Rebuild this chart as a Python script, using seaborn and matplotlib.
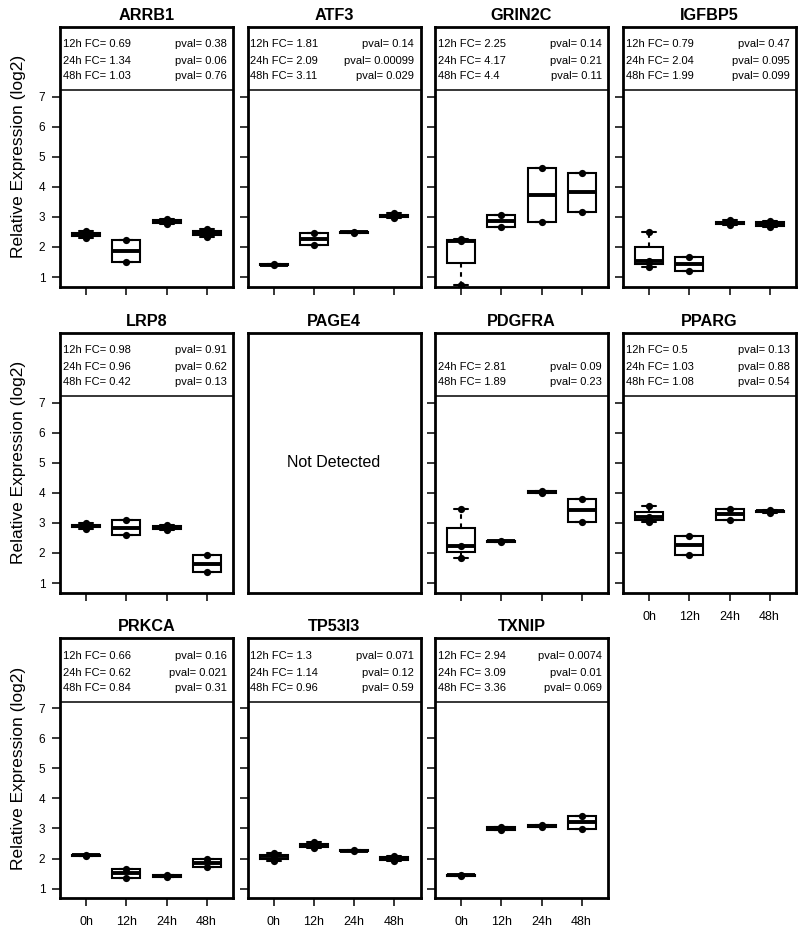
import numpy as np
import pandas as pd
import matplotlib
matplotlib.use("Agg")
import matplotlib.pyplot as plt
import seaborn as sns

# ---------------- data ----------------
timepoints = ["0h", "12h", "24h", "48h"]
genes = ["ARRB1", "ATF3", "GRIN2C", "IGFBP5", "LRP8", "PAGE4",
         "PDGFRA", "PPARG", "PRKCA", "TP53I3", "TXNIP"]

# replicate relative expression (log2) per time point (0h, 12h, 24h, 48h)
ARRB1 = [[2.29, 2.42, 2.52], [1.49, 2.24], [2.77, 2.84, 2.92], [2.32, 2.45, 2.60]]
ATF3 = [[1.39, 1.43], [2.06, 2.47], [2.47, 2.50], [2.95, 3.03, 3.12]]
GRIN2C = [[0.73, 2.19, 2.26], [2.66, 3.07], [2.84, 4.63], [3.17, 4.47]]
IGFBP5 = [[1.33, 1.52, 2.49], [1.21, 1.67], [2.72, 2.80, 2.88], [2.66, 2.76, 2.87]]
LRP8 = [[2.80, 2.90, 2.98], [2.60, 3.09], [2.75, 2.84, 2.93], [1.36, 1.92]]
PAGE4 = None  # not detected
PDGFRA = [[1.84, 2.22, 3.46], [2.37, 2.40], [3.98, 4.02, 4.07], [3.04, 3.80]]
PPARG = [[3.03, 3.18, 3.57], [1.94, 2.56], [3.10, 3.46], [3.32, 3.38, 3.43]]
PRKCA = [[2.08, 2.13], [1.35, 1.66], [1.39, 1.44], [1.71, 1.98]]
TP53I3 = [[1.92, 2.07, 2.20], [2.35, 2.45, 2.55], [2.24, 2.28], [1.93, 2.00, 2.08]]
TXNIP = [[1.42, 1.46], [2.95, 3.05], [3.04, 3.12], [2.99, 3.41]]

# fold changes and p-values for 12h, 24h, 48h vs 0h (None = not shown)
ARRB1_fc, ARRB1_pval = ["0.69", "1.34", "1.03"], ["0.38", "0.06", "0.76"]
ATF3_fc, ATF3_pval = ["1.81", "2.09", "3.11"], ["0.14", "0.00099", "0.029"]
GRIN2C_fc, GRIN2C_pval = ["2.25", "4.17", "4.4"], ["0.14", "0.21", "0.11"]
IGFBP5_fc, IGFBP5_pval = ["0.79", "2.04", "1.99"], ["0.47", "0.095", "0.099"]
LRP8_fc, LRP8_pval = ["0.98", "0.96", "0.42"], ["0.91", "0.62", "0.13"]
PDGFRA_fc, PDGFRA_pval = [None, "2.81", "1.89"], [None, "0.09", "0.23"]
PPARG_fc, PPARG_pval = ["0.5", "1.03", "1.08"], ["0.13", "0.88", "0.54"]
PRKCA_fc, PRKCA_pval = ["0.66", "0.62", "0.84"], ["0.16", "0.021", "0.31"]
TP53I3_fc, TP53I3_pval = ["1.3", "1.14", "0.96"], ["0.071", "0.12", "0.59"]
TXNIP_fc, TXNIP_pval = ["2.94", "3.09", "3.36"], ["0.0074", "0.01", "0.069"]

expression = {"ARRB1": ARRB1, "ATF3": ATF3, "GRIN2C": GRIN2C, "IGFBP5": IGFBP5,
              "LRP8": LRP8, "PAGE4": PAGE4, "PDGFRA": PDGFRA, "PPARG": PPARG,
              "PRKCA": PRKCA, "TP53I3": TP53I3, "TXNIP": TXNIP}
fold_changes = {"ARRB1": ARRB1_fc, "ATF3": ATF3_fc, "GRIN2C": GRIN2C_fc,
                "IGFBP5": IGFBP5_fc, "LRP8": LRP8_fc, "PDGFRA": PDGFRA_fc,
                "PPARG": PPARG_fc, "PRKCA": PRKCA_fc, "TP53I3": TP53I3_fc,
                "TXNIP": TXNIP_fc}
pvalues = {"ARRB1": ARRB1_pval, "ATF3": ATF3_pval, "GRIN2C": GRIN2C_pval,
           "IGFBP5": IGFBP5_pval, "LRP8": LRP8_pval, "PDGFRA": PDGFRA_pval,
           "PPARG": PPARG_pval, "PRKCA": PRKCA_pval, "TP53I3": TP53I3_pval,
           "TXNIP": TXNIP_pval}
compare_labels = ["12h", "24h", "48h"]


def fivenum(v):
    """Tukey five-number summary (as used by R's boxplot)."""
    v = np.sort(np.asarray(v, dtype=float))
    n = len(v)
    n4 = np.floor((n + 3) / 2) / 2
    d = np.array([1, n4, (n + 1) / 2, n + 1 - n4, n]) - 1
    return 0.5 * (v[np.floor(d).astype(int)] + v[np.ceil(d).astype(int)])


# ---------------- style / layout ----------------
sns.set_style("white")
plt.rcParams["font.family"] = ["Liberation Sans", "DejaVu Sans"]
plt.rcParams.update({"text.color": "black", "axes.labelcolor": "black",
                     "xtick.color": "black", "ytick.color": "black",
                     "xtick.bottom": True, "ytick.left": True})

W, H = 800, 933
fig = plt.figure(figsize=(W / 100, H / 100), dpi=100)
col_left = [60, 247.5, 435, 623]
row_top = [26.7, 332.7, 638.3]
pw, ph = 173, 260
YLIM = (0.68, 9.32)
XLIM = (-0.66, 3.66)
header_y = [8.63, 8.08, 7.58]

xlabel_panels = {"PPARG", "PRKCA", "TP53I3", "TXNIP"}
ylabel_panels = {"ARRB1", "LRP8", "PRKCA"}

for i, gene in enumerate(genes):
    r, c = divmod(i, 4)
    ax = fig.add_axes([col_left[c] / W, 1 - (row_top[r] + ph) / H, pw / W, ph / H])
    vals = expression[gene]
    if vals is not None:
        box_rows, pt_rows = [], []
        for t, v in zip(timepoints, vals):
            box_rows += [(t, q) for q in fivenum(v)]
            pt_rows += [(t, p) for p in v]
        box_df = pd.DataFrame(box_rows, columns=["time", "expr"])
        pt_df = pd.DataFrame(pt_rows, columns=["time", "expr"])
        sns.boxplot(data=box_df, x="time", y="expr", order=timepoints, ax=ax,
                    width=0.7, color="white", linecolor="black", linewidth=1.5,
                    showfliers=False, whis=1.5,
                    medianprops=dict(linewidth=2.8),
                    whiskerprops=dict(linestyle=(0, (2.2, 2.2))))
        sns.stripplot(data=pt_df, x="time", y="expr", order=timepoints, ax=ax,
                      jitter=False, color="black", size=5.2, linewidth=0, zorder=5)
        ax.axhline(7.2, color="black", linewidth=1.1)
        fcs, pvs = fold_changes[gene], pvalues[gene]
        for k in range(3):
            if fcs[k] is None:
                continue
            ax.text(-0.59, header_y[k], f"{compare_labels[k]} FC= {fcs[k]}",
                    ha="left", va="baseline", fontsize=8)
            ax.text(3.5, header_y[k], f"pval= {pvs[k]}",
                    ha="right", va="baseline", fontsize=8)
        ax.set_yticks(range(1, 8))
        ax.set_xticks(range(4))
        ax.set_xticklabels(timepoints)
        ax.tick_params(axis="both", direction="out", length=6, width=1.1,
                       color="black", labelcolor="black",
                       bottom=True, left=True, top=False, right=False)
        ax.tick_params(axis="x", pad=7, labelsize=9,
                       labelbottom=gene in xlabel_panels)
        ax.tick_params(axis="y", pad=4.5, labelsize=8.5,
                       labelleft=gene in ylabel_panels)
    else:
        ax.set_xticks([])
        ax.set_yticks([])
        ax.text(1.5, 5.0, "Not Detected", ha="center", va="center", fontsize=11.5)
    ax.set_xlim(XLIM)
    ax.set_ylim(YLIM)
    ax.set_xlabel("")
    ax.set_ylabel("")
    for sp in ax.spines.values():
        sp.set_visible(True)
        sp.set_linewidth(2.0)
        sp.set_color("black")
    ax.text(0.5, 1 + 6.9 / ph, gene, transform=ax.transAxes, ha="center",
            va="baseline", fontsize=11.7, fontweight="bold")

for r in range(3):
    yc = row_top[r] + ph / 2
    fig.text(19 / W, 1 - yc / H, "Relative Expression (log2)", rotation=90,
             ha="center", va="center", fontsize=12.5)

fig.savefig("out.png", dpi=100, facecolor="white")
